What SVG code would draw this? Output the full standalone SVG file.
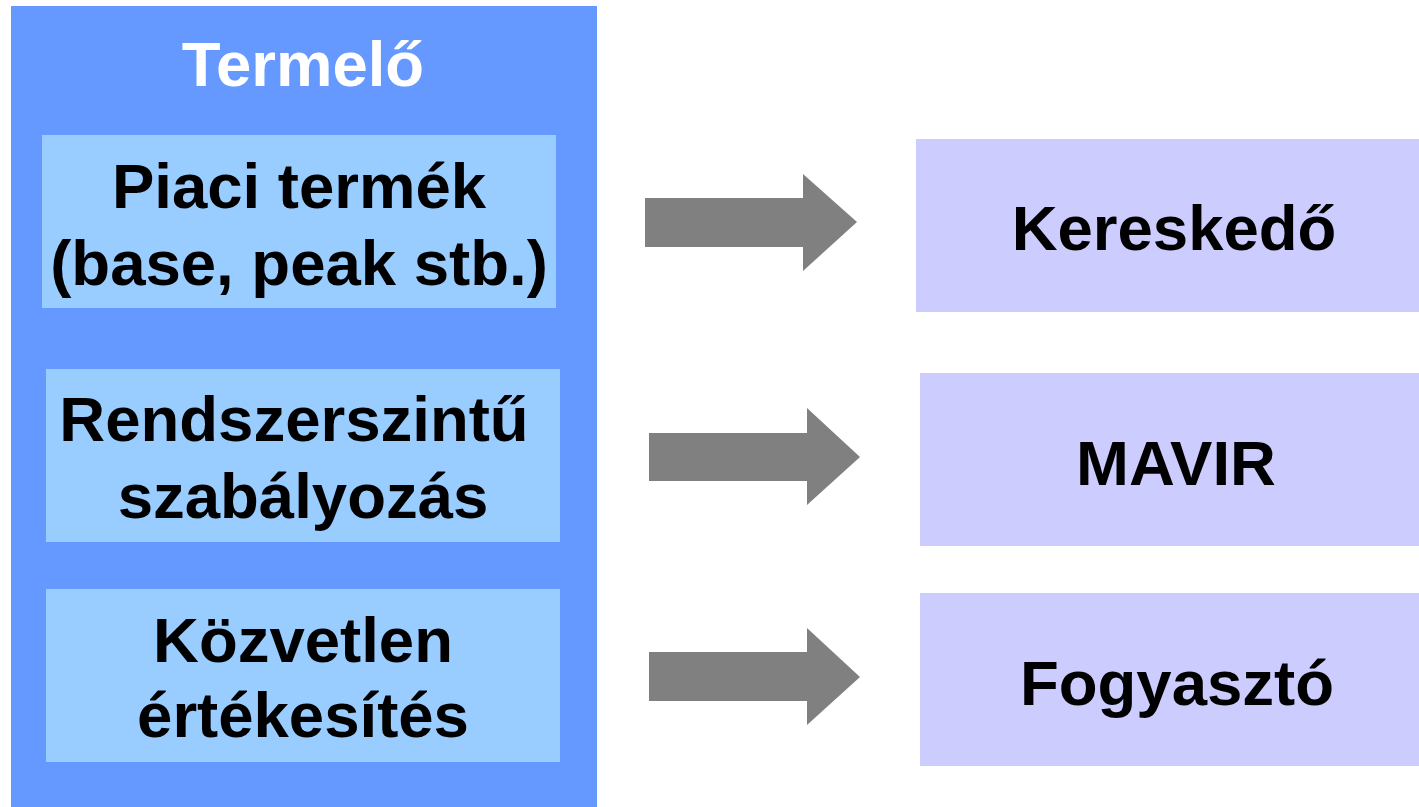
<svg xmlns="http://www.w3.org/2000/svg" width="1419" height="807" viewBox="0 0 1419 807">
<style>
text{font-family:"Liberation Sans",Arial,sans-serif;font-weight:bold;font-size:63.5px;text-anchor:middle;fill:#000}
.t{fill:#fff}
.inner{fill:#99CCFF}
.right{fill:#CCCCFF}
.arr{fill:#808080}
</style>
<rect width="1419" height="807" fill="#fff"/>
<g id="termelo">
<rect x="11" y="6" width="586" height="801" fill="#6699FF"/>
<text class="t" x="303" y="86">Termelő</text>
</g>
<g id="piaci">
<rect class="inner" x="42" y="135" width="514" height="173"/>
<text x="299" y="208">Piaci termék</text>
<text x="299" y="285">(base, peak stb.)</text>
</g>
<g id="rendszer">
<rect class="inner" x="46" y="369" width="514" height="173"/>
<text x="294" y="441">Rendszerszintű</text>
<text x="303" y="518">szabályozás</text>
</g>
<g id="kozvetlen">
<rect class="inner" x="46" y="589" width="514" height="173"/>
<text x="303" y="662">Közvetlen</text>
<text x="303" y="737">értékesítés</text>
</g>
<g id="kereskedo">
<rect class="right" x="916" y="139" width="503" height="173"/>
<text x="1174" y="250">Kereskedő</text>
</g>
<g id="mavir">
<rect class="right" x="920" y="373" width="499" height="173"/>
<text x="1176" y="485">MAVIR</text>
</g>
<g id="fogyaszto">
<rect class="right" x="920" y="593" width="499" height="173"/>
<text x="1177" y="705">Fogyasztó</text>
</g>
<g id="connectors">
<polygon class="arr" points="645,198 803,198 803,174 857,222 803,271 803,247 645,247"/>
<polygon class="arr" points="649,433 807,433 807,408 860,457 807,505 807,481 649,481"/>
<polygon class="arr" points="649,652 807,652 807,628 860,677 807,725 807,701 649,701"/>
</g>
</svg>
